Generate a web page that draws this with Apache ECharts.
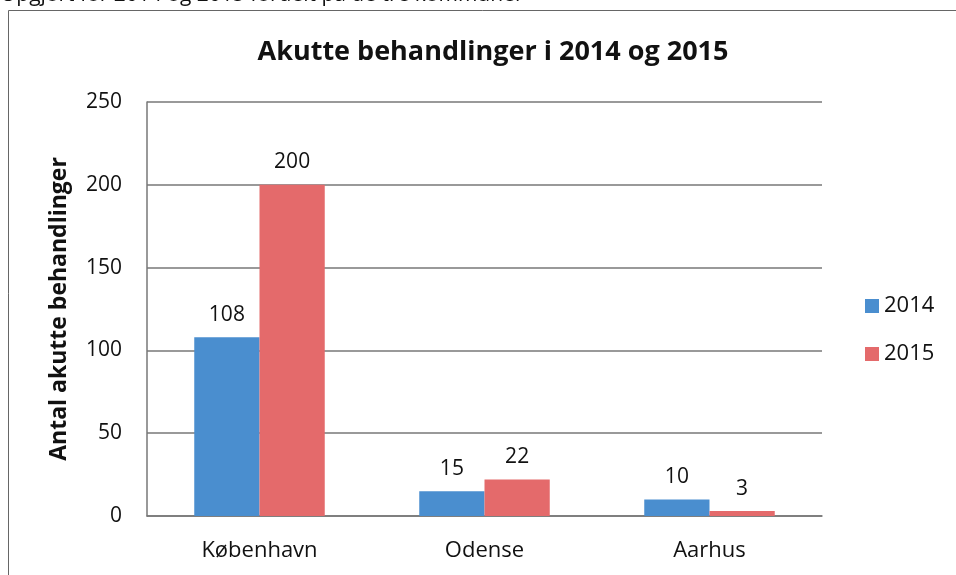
<!DOCTYPE html>
<html>
<head>
<meta charset="utf-8">
<script src="https://cdn.jsdelivr.net/npm/echarts@6/dist/echarts.min.js"></script>
<style>
  html, body { margin: 0; padding: 0; background: #fff; }
  #chart { width: 956px; height: 575px; }
</style>
</head>
<body>
<div id="chart"></div>
<script>
var categories = ['København', 'Odense', 'Aarhus'];
var values2014 = [108, 15, 10];
var values2015 = [200, 22, 3];
var seriesNames = ['2014', '2015'];

var font = 'Open Sans';
var chart = echarts.init(document.getElementById('chart'));

var labelStyle = {
  show: true,
  position: 'top',
  distance: 12,
  color: '#111',
  fontFamily: font,
  fontSize: 21
};

var option = {
  animation: false,
  textStyle: { fontFamily: font },
  title: {
    text: 'Akutte behandlinger i 2014 og 2015',
    left: 488,
    textAlign: 'center',
    top: 34,
    textStyle: { fontFamily: font, fontSize: 27, fontWeight: 'bold', color: '#111' }
  },
  graphic: [
    {
      type: 'text',
      left: 0,
      top: -15,
      style: { text: 'Opgjort for 2014 og 2015 fordelt på de tre kommuner', font: '21px "Open Sans"', fill: '#111' }
    },
    {
      type: 'rect',
      shape: { x: 8.5, y: 10.5, width: 980, height: 600 },
      style: { fill: 'none', stroke: '#666', lineWidth: 1 },
      silent: true
    }
  ],
  legend: {
    orient: 'vertical',
    left: 860,
    top: 290,
    itemGap: 26,
    itemWidth: 14,
    itemHeight: 14,
    icon: 'rect',
    data: seriesNames,
    textStyle: { fontFamily: font, fontSize: 22, color: '#111' }
  },
  grid: { left: 147, right: 134, top: 102, bottom: 59 },
  xAxis: {
    type: 'category',
    data: categories,
    axisTick: { show: false },
    axisLine: { lineStyle: { color: '#777', width: 1.5 } },
    axisLabel: { color: '#111', fontFamily: font, fontSize: 22, margin: 24 }
  },
  yAxis: {
    type: 'value',
    min: 0,
    max: 250,
    interval: 50,
    name: 'Antal akutte behandlinger',
    nameLocation: 'middle',
    nameGap: 76,
    nameTextStyle: { fontFamily: font, fontSize: 23, fontWeight: 'bold', color: '#111' },
    axisLine: { show: true, lineStyle: { color: '#777', width: 1.5 } },
    axisTick: { show: false },
    axisLabel: { color: '#111', fontFamily: font, fontSize: 21, margin: 25 },
    splitLine: { lineStyle: { color: '#777', width: 1.5 } }
  },
  series: [
    {
      name: seriesNames[0],
      type: 'bar',
      data: values2014,
      barGap: '0%',
      barCategoryGap: '42%',
      itemStyle: { color: '#4a8ecf' },
      label: labelStyle
    },
    {
      name: seriesNames[1],
      type: 'bar',
      data: values2015,
      itemStyle: { color: '#e46a6b' },
      label: labelStyle
    }
  ]
};

chart.setOption(option);
</script>
</body>
</html>
